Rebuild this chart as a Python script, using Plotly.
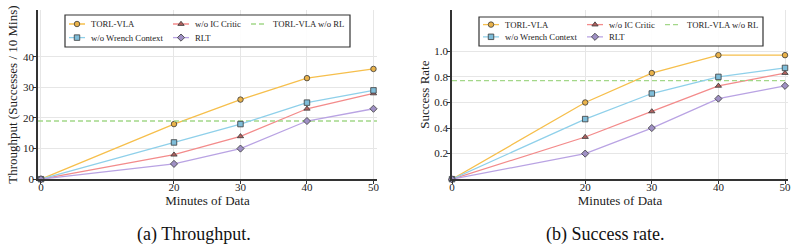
import plotly.graph_objects as go

W, H = 797, 249

minutes = [0, 20, 30, 40, 50]
x_ticks = [0, 20, 30, 40, 50]

baseline_name = "TORL-VLA w/o RL"

throughput = {
    "TORL-VLA": [0, 18, 26, 33, 36],
    "w/o Wrench Context": [0, 12, 18, 25, 29],
    "w/o IC Critic": [0, 8, 14, 23, 28],
    "RLT": [0, 5, 10, 19, 23],
}
throughput_baseline = 19
throughput_ticks = [0, 10, 20, 30, 40]

success = {
    "TORL-VLA": [0, 0.60, 0.83, 0.97, 0.97],
    "w/o Wrench Context": [0, 0.47, 0.67, 0.80, 0.87],
    "w/o IC Critic": [0, 0.33, 0.53, 0.73, 0.83],
    "RLT": [0, 0.20, 0.40, 0.63, 0.73],
}
success_baseline = 0.77
success_ticks = [0.2, 0.4, 0.6, 0.8, 1.0]

styles = {
    "TORL-VLA": dict(line="#f6bf4c", fill="#e9b24a", symbol="circle"),
    "w/o Wrench Context": dict(line="#8fd0ea", fill="#7fbdd9", symbol="square"),
    "w/o IC Critic": dict(line="#f38b8b", fill="#b0615f", symbol="triangle-up"),
    "RLT": dict(line="#b9a3e3", fill="#9f90c4", symbol="diamond"),
}
baseline_color = "#a3d789"

FONT = "Liberation Serif"
TXT = "#222222"
AX = "#333333"
GRID = "#e6e6e6"

def px_x(p):
    return p / W

def px_y(p):
    return 1 - p / H

Y_DOM = [px_y(179.2), px_y(10)]
panels = [
    dict(data=throughput, base=throughput_baseline, xr=[-0.45, 50.53], yr=[0, 55.25],
         dom=[px_x(38), px_x(377)], yticks=throughput_ticks, yfmt="d",
         ytitle="Throughput (Successes / 10 Mins)", ystand=2.5,
         caption="(a) Throughput.", cap_x=193.5,
         box=(65, 15, 350, 47), rows=(24.0, 37.6)),
    dict(data=success, base=success_baseline, xr=[0, 50.45], yr=[0, 1.323],
         dom=[px_x(452), px_x(788)], yticks=success_ticks, yfmt=".1f",
         ytitle="Success Rate", ystand=2,
         caption="(b) Success rate.", cap_x=605,
         box=(479, 17, 763, 46), rows=(24.6, 36.8)),
]

slots = {
    "TORL-VLA": (4, 0),
    "w/o IC Critic": (108, 0),
    baseline_name: (186, 0),
    "w/o Wrench Context": (4, 1),
    "RLT": (108, 1),
}

fig = go.Figure()
layout = {}
shapes = []
annotations = []
leg_idx = 0

for pi, P in enumerate(panels):
    xa = "x" if pi == 0 else "x2"
    ya = "y" if pi == 0 else "y2"
    axn = "" if pi == 0 else "2"

    entries = []
    for name in ["TORL-VLA", "w/o IC Critic", "w/o Wrench Context", "RLT"]:
        st = styles[name]
        entries.append((name, go.Scatter(
            x=minutes, y=P["data"][name], mode="lines+markers", name=name,
            line=dict(color=st["line"], width=1.3),
            marker=dict(symbol=st["symbol"], size=5.5, color=st["fill"],
                        line=dict(color="#3a3a3a", width=0.8)),
            cliponaxis=False, xaxis=xa, yaxis=ya)))
    entries.insert(2, (baseline_name, go.Scatter(
        x=P["xr"], y=[P["base"]] * 2, mode="lines", name=baseline_name,
        line=dict(color=baseline_color, width=1.3, dash="5px,3px"),
        xaxis=xa, yaxis=ya)))

    bx0, by0, bx1, by1 = P["box"]
    for name, tr in entries:
        leg_idx += 1
        lname = "legend" if leg_idx == 1 else f"legend{leg_idx}"
        tr.legend = lname
        col, row = slots[name]
        layout[lname] = dict(
            x=px_x(bx0 + col - 5), y=px_y(P["rows"][row]),
            xanchor="left", yanchor="middle",
            bgcolor="rgba(0,0,0,0)", borderwidth=0,
            font=dict(family=FONT, size=8.7, color=TXT),
            itemclick=False, itemdoubleclick=False,
        )
        fig.add_trace(tr)

    shapes.append(dict(type="rect", xref="paper", yref="paper",
                       x0=px_x(bx0), x1=px_x(bx1), y0=px_y(by1), y1=px_y(by0),
                       line=dict(color="#333333", width=1.2),
                       fillcolor="rgba(255,255,255,0.9)", layer="above"))

    layout["xaxis" + axn] = dict(
        domain=P["dom"], range=P["xr"], anchor=ya,
        tickmode="array", tickvals=x_ticks, ticktext=[str(v) for v in x_ticks],
        showgrid=True, gridcolor=GRID, gridwidth=1, zeroline=False,
        showline=True, linecolor=AX, linewidth=1.5,
        ticks="outside", ticklen=3, tickwidth=1, tickcolor=AX,
        ticklabelstandoff=-6,
        tickfont=dict(family=FONT, size=11, color=TXT),
        title=dict(text="Minutes of Data", font=dict(family=FONT, size=13, color=TXT), standoff=2),
        automargin=False,
    )
    layout["yaxis" + axn] = dict(
        domain=Y_DOM, range=P["yr"], anchor=xa,
        tickmode="array", tickvals=P["yticks"], tickformat=P["yfmt"],
        showgrid=True, gridcolor=GRID, gridwidth=1, zeroline=False,
        showline=True, linecolor=AX, linewidth=1.5,
        ticks="outside", ticklen=3, tickwidth=1, tickcolor=AX,
        ticklabelstandoff=-3,
        tickfont=dict(family=FONT, size=11, color=TXT),
        title=dict(text=P["ytitle"], font=dict(family=FONT, size=13, color=TXT), standoff=P["ystand"]),
        automargin=False,
    )
    annotations.append(dict(
        text=P["caption"], xref="paper", yref="paper",
        x=px_x(P["cap_x"]), y=px_y(234),
        xanchor="center", yanchor="middle", showarrow=False,
        font=dict(family=FONT, size=18, color="#111111")))

fig.update_layout(
    width=W, height=H,
    margin=dict(l=0, r=0, t=0, b=0),
    paper_bgcolor="white", plot_bgcolor="white",
    showlegend=True,
    shapes=shapes, annotations=annotations,
    font=dict(family=FONT, color=TXT),
    **layout,
)

# Shorter legend symbols, like the reference (16px line, text 22px after its start).
# Done with a stylesheet so that it applies to every legend and survives redraws.
post = """
var css = 'g.traces .legendlines path { d: path("M5,0h16") !important; }' +
          'g.traces .legendpoints path.scatterpts { transform: translate(13px, 0px) !important; }' +
          'g.traces > text { transform: translate(-13px, 0px) !important; }';
var st = document.createElement('style');
st.appendChild(document.createTextNode(css));
document.head.appendChild(st);
"""

fig.write_html("out.html", post_script=post)
